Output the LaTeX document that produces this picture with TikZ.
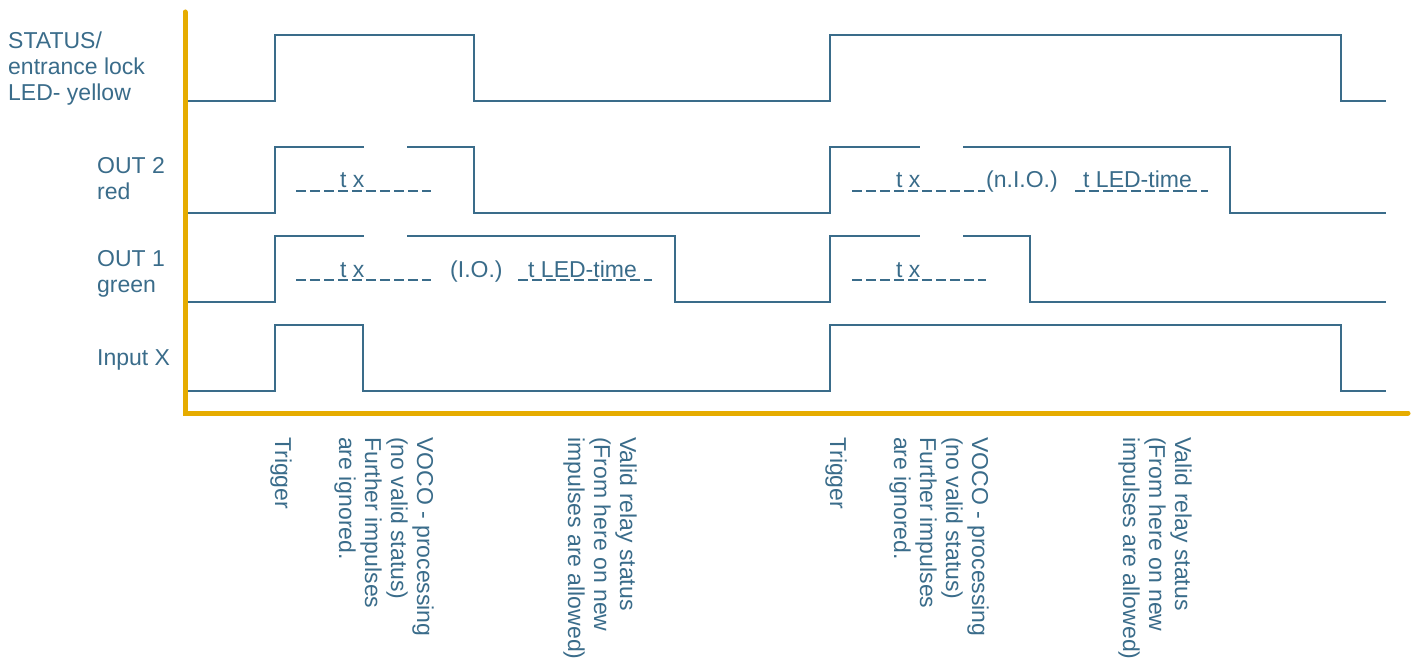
\documentclass[tikz,border=0pt]{standalone}
\usepackage{fontspec}
\setmainfont{Liberation Sans}
\definecolor{sig}{RGB}{58,108,138}
\definecolor{axisc}{RGB}{230,172,0}
\tikzset{
  sigline/.style={draw=sig, line width=2.6pt, line join=miter},
  axisline/.style={draw=axisc, line width=5pt, line cap=round},
  lbl/.style={text=sig, font=\fontsize{23}{26.5}\selectfont, inner sep=0pt, anchor=base west},
  rotlbl/.style={lbl, rotate=-90},
  uline/.style={draw=sig, line width=1.4pt, dash pattern=on 10pt off 4pt}
}
\begin{document}
\begin{tikzpicture}[x=1pt,y=-1pt]
\useasboundingbox (0,0) rectangle (1418,668);
% axes
\draw[axisline] (185,12) -- (185,413) -- (1408,413);
% STATUS
\draw[sigline] (188,101) -- (275,101) -- (275,35) -- (474,35) -- (474,101) -- (830,101) -- (830,35) -- (1341,35) -- (1341,101) -- (1386,101);
% OUT 2
\draw[sigline] (188,213) -- (275,213) -- (275,147) -- (364,147);
\draw[sigline] (407,147) -- (474,147) -- (474,213) -- (830,213) -- (830,147) -- (920,147);
\draw[sigline] (963,147) -- (1230,147) -- (1230,213) -- (1386,213);
% OUT 1
\draw[sigline] (188,302) -- (275,302) -- (275,236) -- (364,236);
\draw[sigline] (407,236) -- (675,236) -- (675,302) -- (830,302) -- (830,236) -- (920,236);
\draw[sigline] (963,236) -- (1030,236) -- (1030,302) -- (1386,302);
% Input X
\draw[sigline] (188,391) -- (275,391) -- (275,325) -- (363,325) -- (363,391) -- (830,391) -- (830,325) -- (1341,325) -- (1341,391) -- (1386,391);
% left labels
\node[lbl] (s1) at (8,49) {STATUS/};
\node[lbl] (s2) at (8,75) {entrance lock};
\node[lbl] (s3) at (8,101) {LED- yellow};
\node[lbl] (o2a) at (97,174) {OUT 2};
\node[lbl] (o2b) at (97,200) {red};
\node[lbl] (o1a) at (97,266) {OUT 1};
\node[lbl] (o1b) at (97,292) {green};
\node[lbl] (inx) at (97,365) {Input X};
% in-signal labels
\draw[uline] (296,191) -- (431,191);
\node[lbl] (tx1) at (340,188) {t x};
\draw[uline] (296,280) -- (431,280);
\node[lbl] (tx2) at (340,277) {t x};
\node[lbl] (io) at (450,277) {(I.O.)};
\draw[uline] (518,280) -- (652,280);
\node[lbl] (led1) at (528,277) {t LED-time};
\draw[uline] (852,191) -- (985,191);
\node[lbl] (tx3) at (896,188) {t x};
\node[lbl] (nio) at (986,188) {(n.I.O.)};
\draw[uline] (1075,191) -- (1208,191);
\node[lbl] (led2) at (1083,188) {t LED-time};
\draw[uline] (852,280) -- (986,280);
\node[lbl] (tx4) at (896,277) {t x};
% bottom rotated labels, group 1
\node[rotlbl] (tr1) at (275,437) {Trigger};
\node[rotlbl] (va1) at (417,437) {VOCO - processing};
\node[rotlbl] (vb1) at (391,437) {(no valid status)};
\node[rotlbl] (vc1) at (365,437) {Further impulses};
\node[rotlbl] (vd1) at (339,437) {are ignored.};
\node[rotlbl] (ra1) at (620,437) {Valid relay status};
\node[rotlbl] (rb1) at (594,437) {(From here on new};
\node[rotlbl] (rc1) at (568,437) {impulses are allowed)};
% group 2
\node[rotlbl] (tr2) at (830,437) {Trigger};
\node[rotlbl] (va2) at (972,437) {VOCO - processing};
\node[rotlbl] (vb2) at (946,437) {(no valid status)};
\node[rotlbl] (vc2) at (920,437) {Further impulses};
\node[rotlbl] (vd2) at (894,437) {are ignored.};
\node[rotlbl] (ra2) at (1175,437) {Valid relay status};
\node[rotlbl] (rb2) at (1149,437) {(From here on new};
\node[rotlbl] (rc2) at (1123,437) {impulses are allowed)};
\end{tikzpicture}
\end{document}
